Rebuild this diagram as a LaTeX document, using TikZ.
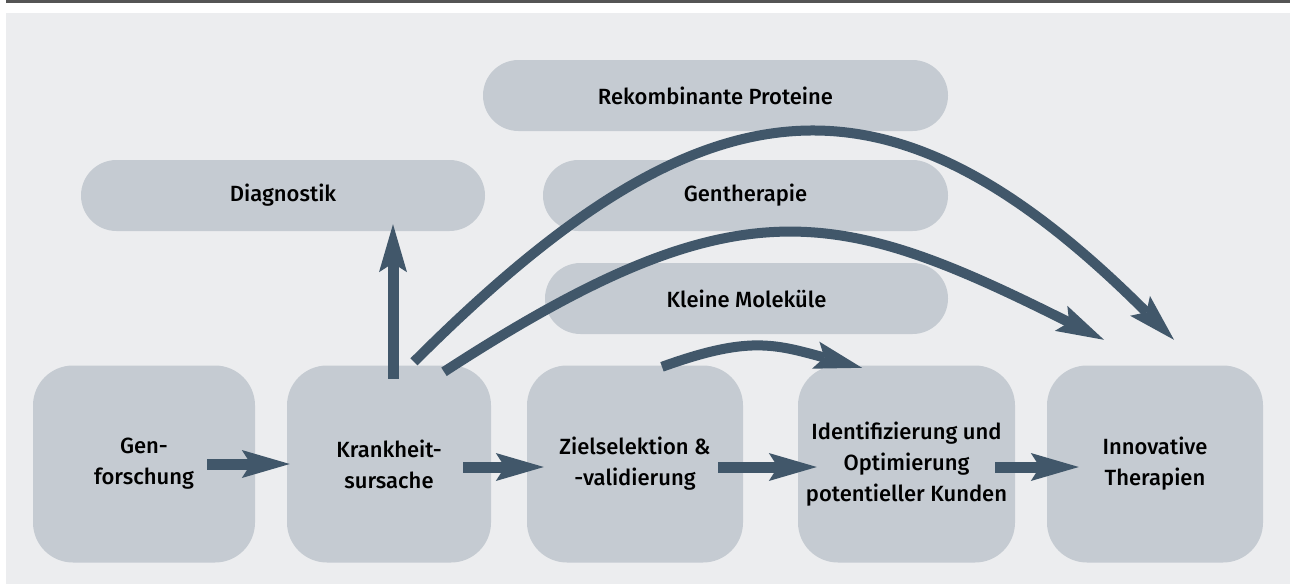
\documentclass[tikz,border=0pt]{standalone}
\usepackage{fontspec}
\setmainfont{Fira Sans Medium}
\usetikzlibrary{arrows.meta, calc}
\definecolor{bgGrey}{HTML}{ECEDEF}
\definecolor{boxGrey}{HTML}{C5CBD2}
\definecolor{pfeil}{HTML}{41576A}
\definecolor{linie}{HTML}{555555}

\begin{document}
\begin{tikzpicture}[x=1pt,y=-1pt,
  box/.style={fill=boxGrey, rounded corners=40pt, minimum width=#1,
    minimum height=197pt, inner sep=0pt, align=center,
    font=\fontsize{22}{31}\selectfont},
  box/.default=216pt,
  pill/.style={fill=boxGrey, rounded corners=35.5pt, minimum width=#1,
    minimum height=71pt, inner sep=0pt, font=\fontsize{22}{31}\selectfont},
  flow/.style={draw=pfeil, line width=11pt,
    -{Stealth[length=48pt, width=28pt, inset=9pt, line width=0pt]}},
  bogen/.style={flow, line width=10pt}]

\useasboundingbox (0,0) rectangle (1290,584);

% --- Rahmen
\fill[linie] (6,0) rectangle (1290,3);
\fill[bgGrey] (6,13) rectangle (1290,584);

% --- Obere Felder
\node[pill=465pt] (rekomb) at (715.5,95.5) {Rekombinante Proteine};
\node[pill=404pt] (diag)   at (283,195.5)  {Diagnostik};
\node[pill=405pt] (genth)  at (745.5,195.5) {Gentherapie};
\node[pill=403pt] (klein)  at (746.5,298.5) {Kleine Moleküle};

% --- Prozesskette
\node[box=222pt] (gen)     at (144,464)   {Gen-\\forschung};
\node[box=204pt] (ursache) at (389,464)   {Krankheit-\\sursache};
\node[box=216pt] (ziel)    at (635,464)   {Zielselektion \&\\-validierung};
\node[box=217pt] (ident)   at (906.5,464) {Identifizierung und\\Optimierung\\potentieller Kunden};
\node[box=216pt] (innov)   at (1155,464)  {Innovative\\Therapien};

% --- Pfeile zwischen den Stufen
\draw[flow] ($(gen.east)+(-48,0)$) -- ($(ursache.west)+(3,0)$);
\draw[flow] ($(ursache.east)+(-28,3)$) -- ($(ziel.west)+(17,3)$);
\draw[flow] ($(ziel.east)+(-25,3)$) -- ($(ident.west)+(19,3)$);
\draw[flow] ($(ident.east)+(-20,3)$) -- ($(innov.west)+(32,3)$);

% --- Abzweig Diagnostik
\draw[flow] ($(ursache.north)+(4,13.5)$) -- ($(ursache.north |- diag.south)+(4,-7)$);

% --- Bögen
\draw[bogen] ($(ursache.north)+(25,-3.5)$) .. controls +(288,-288) and +(-288,-288) .. ($(innov.north)+(19,-25.5)$);
\draw[bogen] ($(ursache.north)+(55,6.5)$) .. controls +(294,-191) and +(-268,-134) .. ($(innov.north)+(-51,-25.5)$);
\draw[bogen] ($(ziel.north)+(27,1.5)$) .. controls +(86,-31) and +(-88,-24) .. ($(ident.north)+(-44.5,2.5)$);

\end{tikzpicture}
\end{document}
